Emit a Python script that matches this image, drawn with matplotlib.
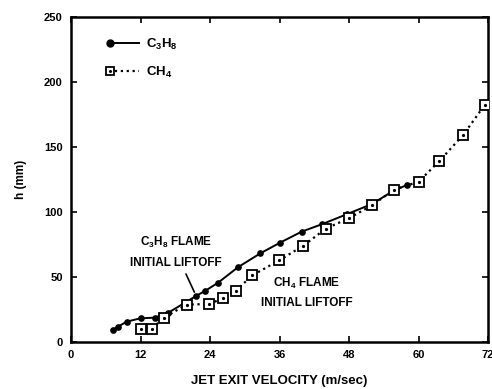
import matplotlib
matplotlib.use("Agg")
import matplotlib.pyplot as plt
from matplotlib.legend_handler import HandlerLine2DCompound

plt.rcParams["font.family"] = ["Liberation Sans", "DejaVu Sans"]
plt.rcParams["font.weight"] = "bold"
plt.rcParams["mathtext.fontset"] = "custom"
plt.rcParams["mathtext.rm"] = "Liberation Sans:bold"
plt.rcParams["mathtext.bf"] = "Liberation Sans:bold"
plt.rcParams["mathtext.default"] = "rm"

# liftoff height vs jet exit velocity
c3h8_v = [7.2, 8.1, 9.6, 12.0, 14.5, 16.8, 21.6, 23.2, 25.4, 28.8, 32.7,
          36.1, 39.8, 43.4, 47.7, 52.0, 55.8, 58.0]
c3h8_h = [9.0, 11.5, 15.4, 18.0, 18.5, 22.3, 35.2, 39.2, 45.4, 57.2, 68.0,
          76.2, 84.6, 90.5, 98.2, 106.0, 116.5, 120.5]

ch4_v = [12.0, 14.0, 16.0, 20.0, 23.9, 26.2, 28.4, 31.3, 35.9, 40.0, 44.0,
         48.0, 52.0, 55.8, 60.0, 63.6, 67.7, 71.4]
ch4_h = [9.5, 10.0, 18.5, 28.5, 29.0, 33.4, 39.0, 51.0, 62.5, 73.5, 87.0,
         95.0, 105.0, 117.0, 123.0, 139.0, 159.0, 182.0]

x_ticks = [0, 12, 24, 36, 48, 60, 72]
y_ticks = [0, 50, 100, 150, 200, 250]


class MarkerFirstHandler(HandlerLine2DCompound):
    # put the legend marker at the left end of its line sample
    def get_xdata(self, legend, xdescent, ydescent, width, height, fontsize):
        xdata, _ = super().get_xdata(legend, xdescent, ydescent, width,
                                     height, fontsize)
        return xdata, [xdata[0] + 1.0]


def legend_marker_size(leg_artist, orig):
    leg_artist.update_from(orig)
    sizes = {"o": 5.0 if orig.get_markersize() > 2 else 1.2, "s": 5.2}
    leg_artist.set_markersize(sizes.get(orig.get_marker(), orig.get_markersize()))


fig = plt.figure(figsize=(4.92, 3.89), dpi=100)
ax = fig.add_axes([0.1443, 0.1216, 0.8477, 0.8355])

c3h8_line, = ax.plot(c3h8_v, c3h8_h, "-", color="black", lw=1.4, marker="o",
                     ms=3.8, zorder=3)
ch4_line, = ax.plot(ch4_v, ch4_h, ":", color="black", lw=1.6, marker="s",
                    ms=6.5, mfc="white", mec="black", mew=1.3, zorder=4)
ch4_dots, = ax.plot(ch4_v, ch4_h, ls="none", marker="o", ms=1.3,
                    color="black", zorder=5)

ax.set_xlim(0, 72)
ax.set_ylim(0, 250)
ax.set_xticks(x_ticks)
ax.set_yticks(y_ticks)
ax.tick_params(direction="in", length=4, width=1.2, labelsize=8,
               top=True, right=True, pad=6)
for s in ax.spines.values():
    s.set_linewidth(1.8)

ax.set_xlabel("JET EXIT VELOCITY (m/sec)", fontsize=9.5, fontweight="bold",
              labelpad=11)
ax.set_ylabel("h (mm)", fontsize=8.5, fontweight="bold", labelpad=12)

handler = MarkerFirstHandler(numpoints=1, update_func=legend_marker_size)
ax.legend([c3h8_line, (ch4_line, ch4_dots)], [r"C$_3$H$_8$", r"CH$_4$"],
          handler_map={type(c3h8_line): handler},
          loc="upper left", bbox_to_anchor=(0.078, 0.955), frameon=False,
          fontsize=9.5, handlelength=2.3, handletextpad=0.5,
          labelspacing=1.0, borderaxespad=0)

ax.annotate("C$_3$H$_8$ FLAME\nINITIAL LIFTOFF", xy=(c3h8_v[6], c3h8_h[6]),
            xytext=(18.1, 69), ha="center", va="center", fontsize=8.5,
            fontweight="bold", linespacing=1.7,
            arrowprops=dict(arrowstyle="-", color="black", lw=1.2,
                            shrinkA=2, shrinkB=3))
ax.annotate("CH$_4$ FLAME\nINITIAL LIFTOFF", xy=(ch4_v[7], ch4_h[7]),
            xytext=(40.7, 38), ha="center", va="center", fontsize=8.5,
            fontweight="bold", linespacing=1.7,
            arrowprops=dict(arrowstyle="-", color="black", lw=1.2,
                            shrinkA=2, shrinkB=5))

fig.savefig("out.png", dpi=100)
